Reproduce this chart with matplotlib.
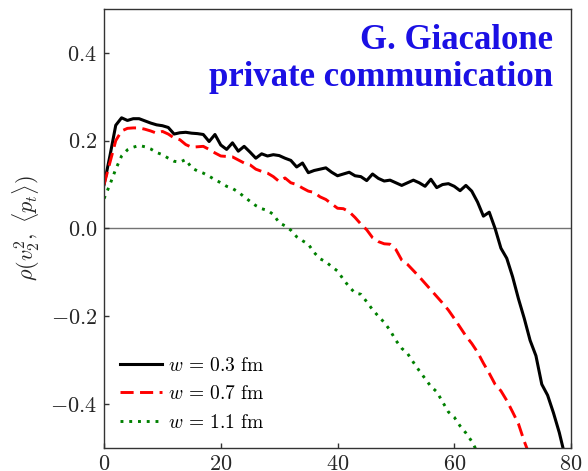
import numpy as np
import matplotlib
matplotlib.use('Agg')
import matplotlib.pyplot as plt

plt.rcParams['mathtext.fontset'] = 'cm'
plt.rcParams['font.family'] = 'serif'
plt.rcParams['font.serif'] = ['cmr10', 'DejaVu Serif']
plt.rcParams['axes.formatter.use_mathtext'] = True

# rho(v2^2, <pt>) vs centrality
x_03 = list(range(0, 80))
rho_03 = [0.100, 0.165, 0.235, 0.252, 0.246, 0.250, 0.250, 0.245, 0.240, 0.236,
          0.234, 0.230, 0.215, 0.218, 0.219, 0.217, 0.216, 0.214, 0.198, 0.214,
          0.190, 0.180, 0.195, 0.176, 0.187, 0.174, 0.160, 0.170, 0.165, 0.168,
          0.166, 0.160, 0.155, 0.140, 0.149, 0.127, 0.132, 0.135, 0.138, 0.128,
          0.120, 0.124, 0.128, 0.120, 0.118, 0.109, 0.124, 0.114, 0.108, 0.110,
          0.104, 0.098, 0.104, 0.110, 0.104, 0.096, 0.112, 0.093, 0.100, 0.102,
          0.096, 0.086, 0.098, 0.085, 0.060, 0.028, 0.037, 0.000, -0.045, -0.068,
          -0.110, -0.160, -0.205, -0.255, -0.290, -0.355, -0.380, -0.420, -0.465, -0.520]

x_07 = list(range(0, 74))
rho_07 = [0.100, 0.150, 0.200, 0.222, 0.228, 0.229, 0.229, 0.226, 0.222, 0.217,
          0.221, 0.215, 0.206, 0.202, 0.191, 0.185, 0.186, 0.187, 0.180, 0.172,
          0.165, 0.164, 0.163, 0.156, 0.149, 0.145, 0.135, 0.130, 0.126, 0.118,
          0.107, 0.115, 0.104, 0.100, 0.092, 0.085, 0.082, 0.072, 0.066, 0.056,
          0.046, 0.045, 0.038, 0.025, 0.010, -0.003, -0.021, -0.030, -0.035, -0.036,
          -0.048, -0.072, -0.082, -0.096, -0.110, -0.125, -0.140, -0.155, -0.170, -0.186,
          -0.205, -0.225, -0.245, -0.262, -0.282, -0.307, -0.330, -0.355, -0.370, -0.392,
          -0.418, -0.445, -0.485, -0.520]

x_11 = list(range(0, 65))
rho_11 = [0.068, 0.100, 0.135, 0.165, 0.179, 0.185, 0.189, 0.186, 0.181, 0.173,
          0.168, 0.160, 0.153, 0.151, 0.157, 0.138, 0.131, 0.126, 0.119, 0.111,
          0.104, 0.096, 0.091, 0.083, 0.072, 0.062, 0.052, 0.045, 0.041, 0.032,
          0.013, 0.006, -0.004, -0.019, -0.028, -0.036, -0.055, -0.069, -0.076, -0.087,
          -0.097, -0.116, -0.133, -0.147, -0.150, -0.167, -0.185, -0.200, -0.214, -0.232,
          -0.255, -0.273, -0.285, -0.305, -0.324, -0.342, -0.360, -0.372, -0.395, -0.418,
          -0.430, -0.450, -0.466, -0.485, -0.510]

labels = [r'$w\,=\,0.3$ fm', r'$w\,=\,0.7$ fm', r'$w\,=\,1.1$ fm']

fig = plt.figure(figsize=(5.88, 4.71), dpi=100)
ax = fig.add_axes([0.177, 0.049, 0.794, 0.932])

ax.axhline(0, color='0.45', lw=1.0, zorder=1)
ax.plot(x_03, rho_03, color='black', lw=2.2, label=labels[0])
ax.plot(x_07, rho_07, color='red', lw=2.1, dashes=(4.5, 2.2), label=labels[1])
ax.plot(x_11, rho_11, color='green', lw=2.1, linestyle=(0, (1, 2)), label=labels[2])

ax.set_xlim(0, 80)
ax.set_ylim(-0.5, 0.5)
ax.set_xticks([0, 20, 40, 60, 80])
ax.set_yticks([-0.4, -0.2, 0.0, 0.2, 0.4])
ax.tick_params(direction='in', length=3.5, width=1, labelsize=16, pad=5, colors='0.2',
               labelcolor='0.15')
for s in ax.spines.values():
    s.set_color('0.2')
    s.set_linewidth(1.0)

ax.set_ylabel(r'$\rho(v_2^2,\ \langle p_t\rangle)$', fontsize=16, color='0.15')
ax.yaxis.set_label_coords(-0.133, 0.5)

ax.legend(loc='lower left', frameon=False, fontsize=14, handlelength=2.15,
          handletextpad=0.3, labelspacing=0.55, borderaxespad=0.42)

ax.text(0.961, 0.965, 'G. Giacalone\nprivate communication', transform=ax.transAxes,
        ha='right', va='top', color='#1b10e4', fontsize=25, fontweight='bold',
        family='Liberation Serif', linespacing=1.15)

fig.savefig('out.png', dpi=100)
